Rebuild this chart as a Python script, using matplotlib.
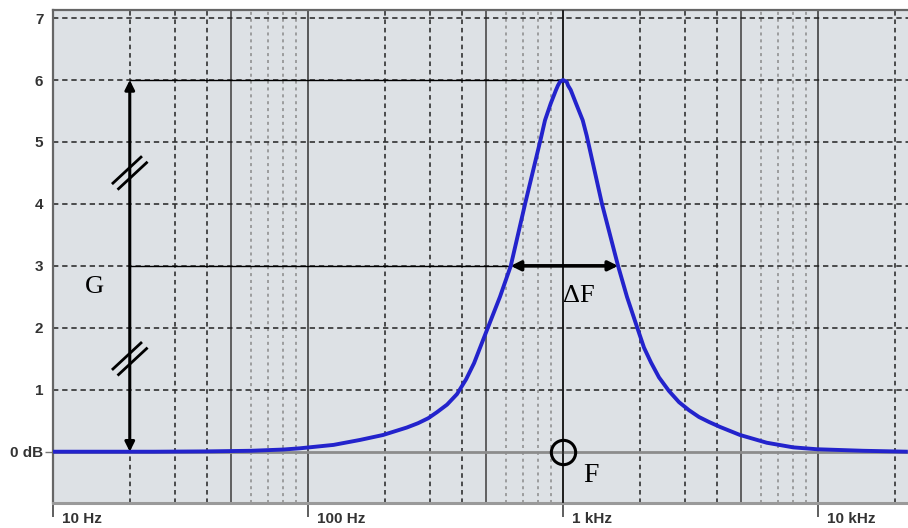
import matplotlib
matplotlib.use('Agg')
import matplotlib.pyplot as plt
import matplotlib.transforms as mtransforms

# response curve (Hz, dB)
freq_hz = [10, 25, 40, 60, 80, 93, 126, 160, 197, 244, 270, 296, 321, 351, 384,
           417, 448, 473, 505, 566, 624, 710, 818, 850, 895, 939, 955, 973, 1000,
           1034, 1047, 1072, 1125, 1195, 1239, 1422, 1644, 1782, 1956, 2078,
           2214, 2379, 2604, 2851, 3120, 3415, 3737, 4128, 4945, 6293, 8000,
           9883, 15000, 22500]
gain_db = [0.0, 0.0, 0.005, 0.015, 0.035, 0.055, 0.11, 0.19, 0.27, 0.39, 0.46,
           0.54, 0.64, 0.76, 0.93, 1.17, 1.43, 1.68, 1.98, 2.5, 3.0, 4.0, 5.05,
           5.35, 5.62, 5.84, 5.91, 5.97, 6.0, 5.97, 5.91, 5.84, 5.62, 5.35, 5.1,
           4.0, 3.0, 2.5, 2.0, 1.68, 1.44, 1.2, 0.98, 0.80, 0.67, 0.56, 0.48,
           0.40, 0.27, 0.145, 0.07, 0.04, 0.015, 0.0]

# axis ticks / labels
decade_ticks = [10, 100, 1000, 10000]
decade_labels = ['10 Hz', '100 Hz', '1 kHz', '10 kHz']
db_ticks = [0, 1, 2, 3, 4, 5, 6, 7]
db_labels = ['0 dB', '1', '2', '3', '4', '5', '6', '7']
half_decades = [50, 500, 5000]
dark_minor = [20, 30, 40, 200, 300, 400, 2000, 3000, 4000, 20000]
light_minor = [60, 70, 80, 90, 600, 700, 800, 900, 6000, 7000, 8000, 9000]

# annotation values
peak_f, peak_g = 1000, 6.0
g_f = 20
bw_lo, bw_hi, bw_db = 624, 1644, 3.0
break_levels = [4.5, 1.5]

fig = plt.figure(figsize=(9.08, 5.28), dpi=100)
ax = fig.add_axes([53 / 908, 25 / 528, 855 / 908, 493 / 528])
ax.set_xscale('log')
ax.set_xlim(10, 22540)
ax.set_ylim(-0.828, 7.13)
ax.set_facecolor('#dde1e5')

# grid
for f in dark_minor:
    ax.axvline(f, color='#222222', lw=1.1, ls=(0, (3, 2.5)), zorder=1)
for f in light_minor:
    ax.axvline(f, color='#8a8a8a', lw=1.1, ls=(0, (2, 2.5)), zorder=1)
for f in half_decades:
    ax.axvline(f, color='#555555', lw=1.3, zorder=1)
for f in decade_ticks:
    ax.axvline(f, color='#333333', lw=1.1, zorder=1)
for d in db_ticks[1:]:
    ax.axhline(d, color='#222222', lw=1.1, ls=(0, (3.5, 2.5)), zorder=1)
ax.axhline(0, color='#8c8c8c', lw=2, zorder=1)

# spines
for side in ['left', 'top']:
    ax.spines[side].set_color('#666666')
    ax.spines[side].set_linewidth(1.6)
ax.spines['bottom'].set_color('#9a9a9a')
ax.spines['bottom'].set_linewidth(2.2)
ax.spines['right'].set_visible(False)

# ticks
ax.set_xticks(decade_ticks)
ax.set_xticklabels([])
ax.xaxis.set_minor_locator(matplotlib.ticker.NullLocator())
ax.tick_params(axis='x', which='major', length=10, width=1.1, color='#333333', direction='out')
ax.set_yticks(db_ticks)
ax.set_yticklabels(db_labels, fontsize=11, fontweight='bold', color='#333333', family='Liberation Sans')
ax.tick_params(axis='y', length=6, width=1, color='#777777', pad=1)
for t in ax.yaxis.get_major_ticks()[1:]:
    t.tick1line.set_visible(False)

xlab_tr = mtransforms.offset_copy(ax.get_xaxis_transform(), fig=fig, x=9, y=-16, units='dots')
for f, lab in zip(decade_ticks, decade_labels):
    ax.text(f, 0, lab, transform=xlab_tr, ha='left', va='center', fontsize=11,
            fontweight='bold', color='#333333', family='Liberation Sans', clip_on=False)

# response curve
ax.plot(freq_hz, gain_db, color='#2323cc', lw=2.8, zorder=4,
        solid_joinstyle='round', solid_capstyle='butt')

# reference lines
ax.plot([g_f, peak_f], [peak_g, peak_g], color='black', lw=1, zorder=3)
ax.plot([g_f, bw_lo], [bw_db, bw_db], color='black', lw=1, zorder=3)
ax.axvline(peak_f, color='#111111', lw=1.1, zorder=3)

# G arrow
ax.annotate('', xy=(g_f, peak_g), xytext=(g_f, 0),
            arrowprops=dict(arrowstyle='<|-|>', lw=2.2, color='black',
                            mutation_scale=14, shrinkA=0, shrinkB=0), zorder=5)
# delta F arrow
ax.annotate('', xy=(bw_hi, bw_db), xytext=(bw_lo, bw_db),
            arrowprops=dict(arrowstyle='<|-|>', lw=2.6, color='black',
                            mutation_scale=14, shrinkA=0, shrinkB=0), zorder=5)

# break marks on G arrow (two parallel slashes)
fig.canvas.draw()
for level in break_levels:
    cx, cy = ax.transData.transform((g_f, level))
    for off in [-4, 4]:
        px, py = off * 0.7, -off * 0.7
        xs = [cx - 14 + px, cx + 14 + px]
        ys = [cy - 13 + py, cy + 13 + py]
        ax.add_line(matplotlib.lines.Line2D(xs, ys, transform=None, color='black',
                                            lw=2, zorder=6))

# circle at F
ax.plot([peak_f], [0], marker='o', ms=17.5, mfc='none', mec='black', mew=2.2, zorder=6)

serif = 'Liberation Serif'
ax.text(14.5, 2.66, 'G', fontsize=19, family=serif, ha='center', va='center', zorder=6)
ax.text(1150, 2.52, '\u0394F', fontsize=19, family=serif, ha='center', va='center', zorder=6)
ax.text(1285, -0.39, 'F', fontsize=20, family=serif, ha='center', va='center', zorder=6)

fig.savefig('out.png', dpi=100)
